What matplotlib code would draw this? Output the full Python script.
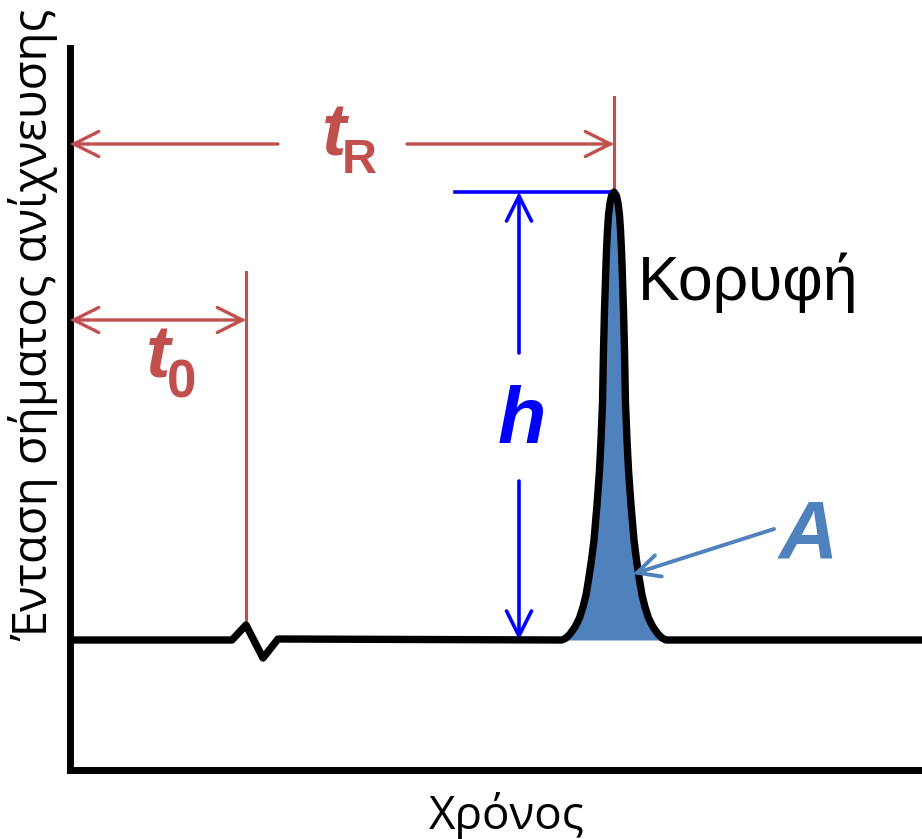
import numpy as np
import matplotlib
matplotlib.use("Agg")
import matplotlib.pyplot as plt

# ---- data (arbitrary time / signal units) ----
x_max = 852
y_max = 722
baseline_level = 130
t0 = 176
tR = 544
peak_height = 448
blip_x = [162, 176, 193, 208]
blip_y = [130, 145, 112, 131]
peak_rel_heights = [448, 444, 437, 425, 410, 390, 370, 330, 290, 237, 200, 170,
                    135, 100, 80, 60, 45, 33, 22, 13, 6, 2, 0]
peak_halfwidths = [0, 2.5, 4, 5.5, 6.5, 7.5, 8.2, 9.5, 10.5, 11.5, 13, 14.5,
                   17, 20, 22.5, 25.5, 28, 31, 34.5, 39, 44, 48, 52]

labels = {"y": "Ένταση σήματος ανίχνευσης", "x": "Χρόνος", "peak": "Κορυφή"}

RED = "#C0504D"
BLUE = "#0000FF"
FILL = "#4F81BD"

W, H = 922, 839
fig = plt.figure(figsize=(W / 100, H / 100), dpi=100)
ax = fig.add_axes([70 / W, (H - 770) / H, (W - 70) / W, (770 - 48) / H])
ax.set_xlim(0, x_max)
ax.set_ylim(0, y_max)
ax.set_xticks([])
ax.set_yticks([])
for s in ["top", "right"]:
    ax.spines[s].set_visible(False)
for s in ["left", "bottom"]:
    ax.spines[s].set_linewidth(5)
    ax.spines[s].set_capstyle("projecting")

# signal trace
pk_left_x = [tR - w for w in peak_halfwidths[::-1]]
pk_left_y = [baseline_level + h for h in peak_rel_heights[::-1]]
pk_right_x = [tR + w for w in peak_halfwidths[1:]]
pk_right_y = [baseline_level + h for h in peak_rel_heights[1:]]
peak_x = pk_left_x + pk_right_x
peak_y = pk_left_y + pk_right_y

trace_x = [0] + blip_x + peak_x + [x_max]
trace_y = [baseline_level] + blip_y + peak_y + [baseline_level]

ax.fill_between(peak_x, baseline_level, peak_y, color=FILL, zorder=2, linewidth=0)
ax.plot(trace_x, trace_y, color="black", lw=5.3, solid_joinstyle="round",
        solid_capstyle="butt", zorder=4, clip_on=False)

arrow_kw = dict(mutation_scale=45, shrinkA=0, shrinkB=0, joinstyle="miter")

# t0 marker
ax.plot([t0, t0], [blip_y[1], 498], color=RED, lw=2.2, zorder=3)
ax.annotate("", xy=(0, 450), xytext=(t0, 450),
            arrowprops=dict(arrowstyle="<->", color=RED, lw=2.4, **arrow_kw))
bi = dict(family="Liberation Sans", weight="bold", style="italic")
b = dict(family="Liberation Sans", weight="bold")
ax.text(76, 392, "t", color=RED, fontsize=53, ha="left", va="baseline", **bi)
ax.text(97, 373, "0", color=RED, fontsize=38, ha="left", va="baseline", **b)

# tR marker
ax.plot([tR, tR], [baseline_level + peak_height, 673], color=RED, lw=2.2, zorder=3)
ax.annotate("", xy=(0, 626), xytext=(208, 626),
            arrowprops=dict(arrowstyle="->", color=RED, lw=2.4, **arrow_kw))
ax.annotate("", xy=(tR, 626), xytext=(337, 626),
            arrowprops=dict(arrowstyle="->", color=RED, lw=2.4, **arrow_kw))
ax.text(252, 615, "t", color=RED, fontsize=53, ha="left", va="baseline", **bi)
ax.text(272, 597, "R", color=RED, fontsize=35, ha="left", va="baseline", **b)

# h marker
h_x = 449
apex = baseline_level + peak_height
ax.plot([385, tR], [apex, apex], color=BLUE, lw=2.6, zorder=3)
ax.annotate("", xy=(h_x, apex), xytext=(h_x, 417),
            arrowprops=dict(arrowstyle="->", color=BLUE, lw=2.6, **arrow_kw))
ax.annotate("", xy=(h_x, baseline_level), xytext=(h_x, 289),
            arrowprops=dict(arrowstyle="->", color=BLUE, lw=2.6, **arrow_kw))
ax.text(452, 327, "h", color=BLUE, fontsize=57, ha="center", va="baseline", **bi)

# A (area)
ax.annotate("", xy=(563, 196), xytext=(704, 241),
            arrowprops=dict(arrowstyle="->", color=FILL, lw=2.8, mutation_scale=40,
                            shrinkA=0, shrinkB=0, joinstyle="miter"), zorder=5)
ax.text(738, 213, "A", color=FILL, fontsize=59, ha="center", va="baseline", **bi)

# peak label
ax.text(568, 470, labels["peak"], fontsize=45, family="Liberation Sans",
        ha="left", va="baseline", color="black")

# axis labels
fig.text(507 / W, 1 - 829 / H, labels["x"], fontsize=33, family="Open Sans",
         ha="center", va="baseline")
fig.text(33 / W, 1 - 325 / H, labels["y"], fontsize=34, family="Open Sans",
         ha="center", va="center", rotation=90)

fig.savefig("out.png", dpi=100)
